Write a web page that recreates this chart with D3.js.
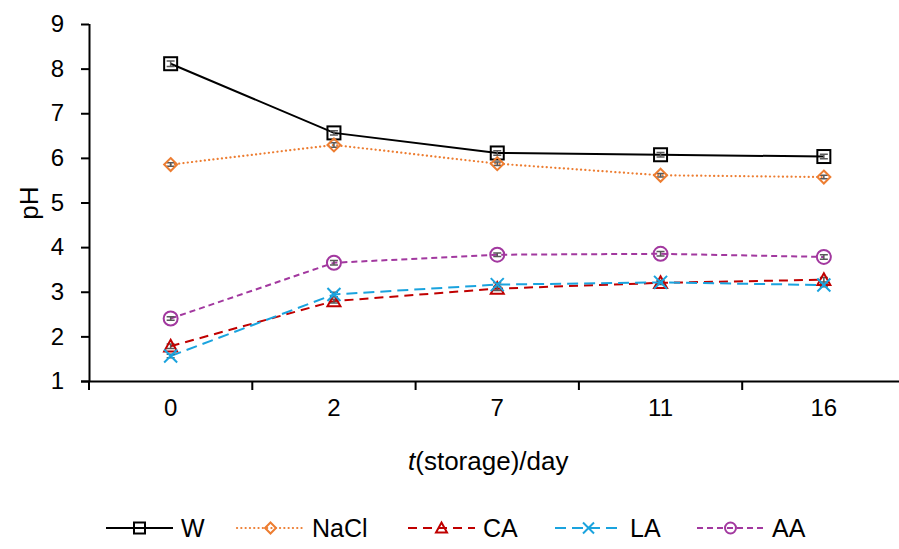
<!DOCTYPE html>
<html>
<head>
<meta charset="utf-8">
<script src="https://cdn.jsdelivr.net/npm/d3@7"></script>
<style>
  html, body { margin: 0; padding: 0; background: #fff; }
  svg { display: block; font-family: "Liberation Sans", Arial, sans-serif; }
</style>
</head>
<body>
<svg id="chart" width="899" height="549"></svg>
<script>
// storage days (categorical x axis)
const days = ["0", "2", "7", "11", "16"];
const yTicks = [1, 2, 3, 4, 5, 6, 7, 8, 9];

// pH readings per treatment
const W    = [8.11, 6.56, 6.11, 6.07, 6.03];
const NaCl = [5.85, 6.29, 5.87, 5.61, 5.57];
const CA   = [1.78, 2.79, 3.07, 3.20, 3.27];
const LA   = [1.56, 2.94, 3.16, 3.21, 3.15];
const AA   = [2.40, 3.65, 3.83, 3.85, 3.78];

// standard deviations (small)
const W_sd    = [0.06, 0.05, 0.05, 0.05, 0.05];
const NaCl_sd = [0.04, 0.05, 0.04, 0.04, 0.04];
const CA_sd   = [0.05, 0.04, 0.04, 0.04, 0.05];
const LA_sd   = [0.04, 0.05, 0.04, 0.04, 0.04];
const AA_sd   = [0.04, 0.05, 0.04, 0.05, 0.05];

const seriesNames = ["W", "NaCl", "CA", "LA", "AA"];
const seriesValues = [W, NaCl, CA, LA, AA];
const seriesSd = [W_sd, NaCl_sd, CA_sd, LA_sd, AA_sd];

const styles = {
  W:    { color: "#000000", dash: null,  width: 2,   cap: "butt",  marker: "square" },
  NaCl: { color: "#ED7D31", dash: "0.1 4.2", width: 2.2, cap: "round", marker: "diamond" },
  CA:   { color: "#C00000", dash: "9 6", width: 2,   cap: "butt",  marker: "triangle" },
  LA:   { color: "#1AA3DE", dash: "11 6", width: 2,  cap: "butt",  marker: "x" },
  AA:   { color: "#A2389F", dash: "6 4", width: 2,   cap: "butt",  marker: "circle" }
};

const series = seriesNames.map((name, i) => ({
  name,
  points: days.map((d, j) => ({ day: d, v: seriesValues[i][j], sd: seriesSd[i][j] }))
}));

const svg = d3.select("#chart");
const plotLeft = 89, plotRight = 905.5, plotTop = 24, plotBottom = 381;

const x = d3.scaleBand().domain(days).range([plotLeft, plotRight]).padding(0);
const y = d3.scaleLinear().domain([1, 9]).range([plotBottom, plotTop]);
const cx = d => x(d) + x.bandwidth() / 2;

// y axis
const yAxis = svg.append("g")
  .attr("transform", `translate(${plotLeft},0)`)
  .call(d3.axisLeft(y).tickValues(yTicks).tickSize(8).tickPadding(17).tickFormat(d3.format("d")));
yAxis.select(".domain").attr("stroke", "#000").attr("stroke-width", 2)
  .attr("d", `M0.5,${plotTop}V${plotBottom}`);
yAxis.selectAll(".tick line").attr("stroke", "#000").attr("stroke-width", 2);
yAxis.selectAll(".tick text").attr("font-size", 24).attr("fill", "#000")
  .attr("font-family", "Liberation Sans, Arial, sans-serif");

// x axis: labels centred in bands, ticks at band boundaries
const xAxis = svg.append("g")
  .attr("transform", `translate(0,${plotBottom})`)
  .call(d3.axisBottom(x).tickSize(0).tickPadding(18));
xAxis.select(".domain").attr("stroke", "#000").attr("stroke-width", 2)
  .attr("d", `M${plotLeft - 8},0.5H${plotRight}`);
xAxis.selectAll(".tick text").attr("font-size", 24).attr("fill", "#000")
  .attr("font-family", "Liberation Sans, Arial, sans-serif");
const bounds = days.map(d => x(d)).concat([x.range()[1]]);
xAxis.selectAll("line.bound").data(bounds).join("line")
  .attr("class", "bound")
  .attr("x1", d => d).attr("x2", d => d)
  .attr("y1", 0).attr("y2", 9)
  .attr("stroke", "#000").attr("stroke-width", 2);

// axis titles
const xTitle = svg.append("text")
  .attr("x", (x("0") + x("16") + x.bandwidth()) / 2 - 9)
  .attr("y", 470)
  .attr("text-anchor", "middle")
  .attr("font-size", 26)
  .attr("fill", "#000");
xTitle.append("tspan").attr("font-style", "italic").text("t");
xTitle.append("tspan").text("(storage)/day");

svg.append("text")
  .attr("transform", "translate(38,203) rotate(-90)")
  .attr("text-anchor", "middle")
  .attr("font-size", 26)
  .attr("fill", "#000")
  .text("pH");

// marker drawing
function drawMarker(g, type, color, px, py, s) {
  const h = s / 2;
  if (type === "square") {
    g.append("rect").attr("x", px - h).attr("y", py - h).attr("width", s).attr("height", s)
      .attr("fill", "none").attr("stroke", color).attr("stroke-width", 2);
  } else if (type === "diamond") {
    g.append("path").attr("d", `M${px},${py - h}L${px + h},${py}L${px},${py + h}L${px - h},${py}Z`)
      .attr("fill", "none").attr("stroke", color).attr("stroke-width", 2);
  } else if (type === "triangle") {
    g.append("path").attr("d", `M${px},${py - h}L${px + h},${py + h * 0.8}L${px - h},${py + h * 0.8}Z`)
      .attr("fill", "none").attr("stroke", color).attr("stroke-width", 2);
  } else if (type === "x") {
    g.append("path").attr("d", `M${px - h},${py - h}L${px + h},${py + h}M${px + h},${py - h}L${px - h},${py + h}`)
      .attr("fill", "none").attr("stroke", color).attr("stroke-width", 2);
  } else if (type === "circle") {
    g.append("circle").attr("cx", px).attr("cy", py).attr("r", h)
      .attr("fill", "none").attr("stroke", color).attr("stroke-width", 2);
  }
}

const line = d3.line().x(d => cx(d.day)).y(d => y(d.v));
const plot = svg.append("g");

series.forEach(s => {
  const st = styles[s.name];
  const g = plot.append("g");
  g.append("path").datum(s.points).attr("d", line)
    .attr("fill", "none").attr("stroke", st.color).attr("stroke-width", st.width)
    .attr("stroke-linecap", st.cap)
    .attr("stroke-dasharray", st.dash);
  // error bars
  s.points.forEach(p => {
    const px = cx(p.day);
    g.append("path")
      .attr("d", `M${px},${y(p.v + p.sd)}V${y(p.v - p.sd)}M${px - 4},${y(p.v + p.sd)}H${px + 4}M${px - 4},${y(p.v - p.sd)}H${px + 4}`)
      .attr("stroke", "#595959").attr("stroke-width", 1.5).attr("fill", "none");
  });
  s.points.forEach(p => drawMarker(g, st.marker, st.color, cx(p.day), y(p.v), st.marker === "circle" ? 14 : 13));
});

// legend
const legendItems = [
  { name: "W",    x0: 106 },
  { name: "NaCl", x0: 237 },
  { name: "CA",   x0: 408 },
  { name: "LA",   x0: 555 },
  { name: "AA",   x0: 697 }
];
const ly = 528, lw = 67;
const legend = svg.append("g");
legendItems.forEach(it => {
  const st = styles[it.name];
  const g = legend.append("g");
  g.append("line").attr("x1", it.x0).attr("x2", it.x0 + lw).attr("y1", ly).attr("y2", ly)
    .attr("stroke", st.color).attr("stroke-width", st.width).attr("stroke-linecap", st.cap)
    .attr("stroke-dasharray", st.dash);
  drawMarker(g, st.marker, st.color, it.x0 + lw / 2, ly, 11);
  g.append("text").attr("x", it.x0 + lw + 8).attr("y", ly + 9)
    .attr("font-size", 25).attr("fill", "#000").text(it.name);
});
</script>
</body>
</html>
